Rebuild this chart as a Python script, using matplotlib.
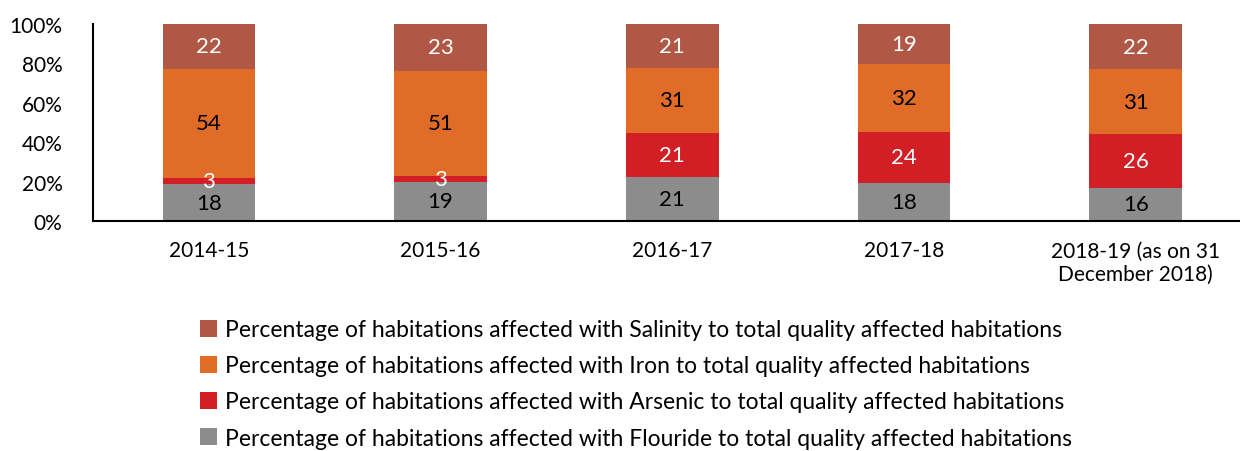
import numpy as np
import matplotlib.pyplot as plt
from matplotlib.ticker import PercentFormatter

years = ['2014-15', '2015-16', '2016-17', '2017-18', '2018-19 (as on 31\nDecember 2018)']
flouride = [18, 19, 21, 18, 16]
arsenic = [3, 3, 21, 24, 26]
iron = [54, 51, 31, 32, 31]
salinity = [22, 23, 21, 19, 22]

names = ['Flouride', 'Arsenic', 'Iron', 'Salinity']
colors = ['#8c8c8c', '#d21f26', '#e06c28', '#b05845']
txt_colors = ['black', 'white', 'black', 'white']

plt.rcParams['font.family'] = ['Lato', 'DejaVu Sans']

fig = plt.figure(figsize=(12.4, 4.52), dpi=100)
ax = fig.add_axes([0.075, 0.509, 0.925, 0.436])

series = [flouride, arsenic, iron, salinity]
tot = np.sum(series, axis=0)
x = np.arange(len(years))
bottom = np.zeros(len(years))
handles = []
for vals, name, c, tc in zip(series, names, colors, txt_colors):
    share = np.array(vals) / tot * 100
    b = ax.bar(x, share, 0.4, bottom=bottom, color=c,
               label='Percentage of habitations affected with %s to total quality affected habitations' % name)
    handles.append(b)
    for xi, v, s, bt in zip(x, vals, share, bottom):
        ax.text(xi, bt + s / 2, str(v), ha='center', va='center', fontsize=16, color=tc)
    bottom += share

ax.set_xlim(-0.5, 4.45)
ax.set_ylim(0, 100)
ax.set_yticks(range(0, 101, 20))
ax.yaxis.set_major_formatter(PercentFormatter(decimals=0))
ax.set_xticks(x)
ax.set_xticklabels(years, fontsize=15)
ax.tick_params(axis='y', labelsize=15, length=0, pad=22)
ax.tick_params(axis='x', length=0, pad=14)
for sp in ['top', 'right']:
    ax.spines[sp].set_visible(False)
ax.spines['left'].set_linewidth(1.5)
ax.spines['bottom'].set_linewidth(1.5)

fig.legend(handles[::-1], [h.get_label() for h in handles[::-1]],
           loc='upper left', bbox_to_anchor=(0.152, 0.317), frameon=False,
           fontsize=16.5, handlelength=0.75, handleheight=0.75, handletextpad=0.35,
           labelspacing=0.66, borderpad=0)

fig.savefig('out.png', dpi=100)
